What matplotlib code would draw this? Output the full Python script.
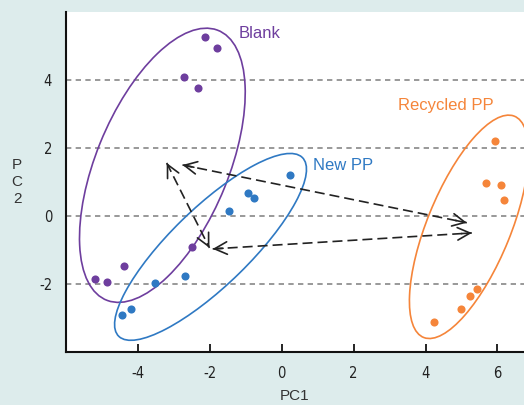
import matplotlib.pyplot as plt
from matplotlib.patches import Ellipse

plt.rcParams['axes.unicode_minus'] = False

# PCA scores
blank_pc1 = [-2.13, -1.79, -2.71, -2.32, -4.39, -5.19, -4.86, -2.50]
blank_pc2 = [5.25, 4.92, 4.07, 3.75, -1.47, -1.86, -1.96, -0.92]

newpp_pc1 = [-3.53, -2.68, -4.43, -4.18, -1.47, -0.94, -0.78, 0.24]
newpp_pc2 = [-1.97, -1.77, -2.91, -2.74, 0.14, 0.66, 0.52, 1.20]

recpp_pc1 = [5.94, 5.69, 6.10, 6.19, 4.25, 4.99, 5.23, 5.44]
recpp_pc2 = [2.20, 0.95, 0.90, 0.46, -3.12, -2.74, -2.36, -2.15]

# group ellipses: centre x, centre y, width, height, angle
ell_blank = (-3.32, 1.48, 8.52, 3.70, 69)
ell_newpp = (-1.98, -0.92, 7.33, 2.23, 46)
ell_recpp = (5.21, -0.33, 6.98, 2.33, 69)

# dashed double arrows (x0, y0, x1, y1)
arrows = [(-2.76, 1.49, 5.15, -0.21),
          (-1.92, -0.98, 5.29, -0.51),
          (-3.20, 1.55, -2.01, -0.95)]

x_ticks = [-4, -2, 0, 2, 4, 6]
y_ticks = [-2, 0, 2, 4]

purple = '#6E3E9E'
blue = '#2F79C3'
orange = '#F5853A'
bg = '#DDECEC'

fig = plt.figure(figsize=(5.24, 4.05), dpi=100, facecolor=bg)
ax = fig.add_axes([0.126, 0.131, 0.874, 0.8395])

# grid lines
for yv in y_ticks:
    ax.axhline(yv, color='#888888', lw=1.2, ls=(0, (3.2, 2.6)), zorder=1)

# ellipses
for (cx, cy, w, h, ang), col in [(ell_blank, purple), (ell_newpp, blue), (ell_recpp, orange)]:
    ax.add_patch(Ellipse((cx, cy), w, h, angle=ang, fill=False, edgecolor=col, lw=1.2, zorder=2))

# points
ax.scatter(blank_pc1, blank_pc2, s=34, color=purple, zorder=4, linewidths=0)
ax.scatter(newpp_pc1, newpp_pc2, s=34, color=blue, zorder=4, linewidths=0)
ax.scatter(recpp_pc1, recpp_pc2, s=34, color=orange, zorder=4, linewidths=0)

# arrows: dashed shaft + solid open heads
for x0, y0, x1, y1 in arrows:
    ax.plot([x0, x1], [y0, y1], color='#222222', lw=1.2, ls=(0, (6, 3)), zorder=3)
    for (tx, ty), (ox, oy) in [((x0, y0), (x1, y1)), ((x1, y1), (x0, y0))]:
        bx = tx + (ox - tx) * 0.04
        by = ty + (oy - ty) * 0.04
        ax.annotate('', xy=(tx, ty), xytext=(bx, by),
                    arrowprops=dict(arrowstyle='->,head_length=0.9,head_width=0.45',
                                    color='#222222', lw=1.2, shrinkA=0, shrinkB=0),
                    zorder=3)

# group labels
ax.text(-1.20, 5.37, 'Blank', color=purple, fontsize=12, family='Liberation Sans', va='center')
ax.text(0.88, 1.47, 'New PP', color=blue, fontsize=12, family='Liberation Sans', va='center')
ax.text(3.23, 3.25, 'Recycled PP', color=orange, fontsize=12, family='Liberation Sans', va='center')

ax.set_xlim(-6.0, 6.74)
ax.set_ylim(-4.01, 5.99)
ax.set_xticks(x_ticks)
ax.set_yticks(y_ticks)

tick_font = ['Liberation Sans Narrow', 'DejaVu Sans Condensed', 'DejaVu Sans']
for lab in ax.get_xticklabels() + ax.get_yticklabels():
    lab.set_family(tick_font)
    lab.set_fontstretch('condensed')
    lab.set_fontsize(10.5)
    lab.set_color('#222222')
ax.tick_params(axis='x', direction='in', length=6, width=1.2, pad=10)
ax.tick_params(axis='y', length=0, pad=10)

for side in ['top', 'right']:
    ax.spines[side].set_visible(False)
for side in ['left', 'bottom']:
    ax.spines[side].set_linewidth(1.5)
    ax.spines[side].set_color('#111111')

ax.set_xlabel('PC1', fontsize=11, family='Liberation Sans', color='#333333', labelpad=6)
ax.set_ylabel('P\nC\n2', fontsize=11, family='Liberation Sans', color='#333333',
              rotation=0, va='center', ha='center', linespacing=1.3)
ax.yaxis.set_label_coords(-0.107, 0.5)

fig.savefig('out.png', dpi=100, facecolor=bg)
